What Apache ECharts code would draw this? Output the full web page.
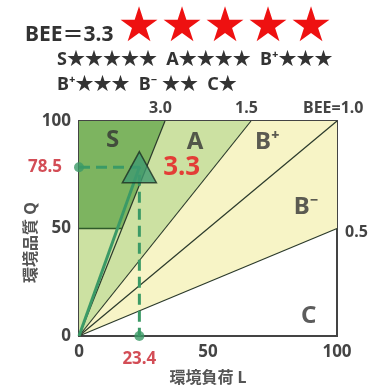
<!DOCTYPE html>
<html>
<head>
<meta charset="utf-8">
<script src="https://cdn.jsdelivr.net/npm/echarts@6/dist/echarts.min.js"></script>
<style>
  html, body { margin: 0; background: #fff; }
  #main { width: 372px; height: 391px; }
</style>
</head>
<body>
<div id="main"></div>
<script>
// 評価結果
const beeText = '3.3'
const pointL = 23.4
const pointQ = 78.5
const axisTicks = [0, 50, 100]
// ランク境界 (BEE)
const beeLines = [3.0, 1.5, 1.0, 0.5]
const beeLineLabels = ['3.0', '1.5', 'BEE=1.0', '0.5']
// 領域 [L, Q]
const zoneB = [[0, 0], [100, 50], [100, 100], [0, 100]]
const zoneA = [[0, 0], [66.7, 100], [0, 100]]
const zoneS = [[0, 50], [16.7, 50], [33.3, 100], [0, 100]]
const zoneLabels = ['S', 'A', 'B⁺', 'B⁻', 'C']
const zoneLabelPos = [[13, 91], [45, 90], [73, 90], [88, 60], [89, 9]]

const zones = [zoneB, zoneA, zoneS]
const zoneColors = ['#f7f4c6', '#cce1a2', '#7db460']

// 境界線の端点
const lineEnd = b => (b >= 1 ? [100 / b, 100] : [100, 100 * b])

const font = '"Noto Sans", "Noto Sans CJK JP", sans-serif'
const red = '#c8202c'
const green = '#3b9a66'

const myChart = echarts.init(document.getElementById('main'))

const series = [
  {
    type: 'custom',
    silent: true,
    data: zones.map((z, i) => i),
    renderItem: (params, api) => {
      const pts = zones[params.dataIndex].map(p => api.coord(p))
      return {
        type: 'polygon',
        shape: { points: pts },
        style: { fill: zoneColors[params.dataIndex] }
      }
    },
    z: 1
  }
]

// BEE 境界線
beeLines.forEach((b, i) => {
  series.push({
    type: 'line',
    data: [[0, 0], lineEnd(b)],
    symbol: 'none',
    lineStyle: { color: '#2b3a2b', width: 1.2 },
    endLabel: {
      show: true,
      formatter: beeLineLabels[i],
      fontFamily: font,
      fontWeight: 'bold',
      fontSize: 16,
      color: '#444',
      offset: b >= 1 ? (b === 1 ? [-42, -13] : [-24, -13]) : [0, 4]
    },
    z: 3
  })
})

// S 下端
series.push({
  type: 'line',
  data: [[0, 50], [16.7, 50]],
  symbol: 'none',
  lineStyle: { color: '#2f5a2a', width: 1.5 },
  z: 3
})

// 原点からの傾き線
series.push({
  type: 'line',
  data: [[0, 0], [pointL, pointQ]],
  symbol: 'none',
  lineStyle: { color: green, width: 3 },
  z: 4
})

// 破線
series.push({
  type: 'line',
  data: [[0, pointQ], [pointL, pointQ], [pointL, 0]],
  symbol: 'none',
  lineStyle: { color: green, width: 3, type: [11, 6] },
  z: 4
})

// 軸上の点と値
series.push({
  type: 'scatter',
  data: [
    { value: [0, pointQ], label: { position: 'left', distance: 12 } },
    { value: [pointL, 0], label: { position: 'bottom', distance: 10 } }
  ],
  symbolSize: 10,
  itemStyle: { color: green },
  label: {
    show: true,
    formatter: p => (p.value[0] === 0 ? pointQ.toFixed(1) : pointL.toFixed(1)),
    color: red,
    fontFamily: font,
    fontWeight: 'bold',
    fontSize: 17
  },
  clip: false,
  z: 5
})

// 評価点
series.push({
  type: 'scatter',
  data: [[pointL, pointQ]],
  symbol: 'triangle',
  symbolSize: [34, 31],
  itemStyle: { color: '#3f9a70', borderColor: '#1c2e22', borderWidth: 1.5 },
  label: {
    show: true,
    position: 'right',
    distance: 6,
    formatter: beeText,
    color: '#e8141c',
    fontFamily: font,
    fontWeight: 'bold',
    fontSize: 26
  },
  z: 6
})

// ランク名
series.push({
  type: 'scatter',
  data: zoneLabelPos.map((p, i) => ({ value: p, name: zoneLabels[i] })),
  symbolSize: 0,
  label: {
    show: true,
    position: 'inside',
    formatter: p => p.name,
    color: '#333',
    fontFamily: font,
    fontWeight: 'bold',
    fontSize: 24
  },
  z: 5
})

const axisLabelStyle = {
  fontFamily: font,
  fontWeight: 'bold',
  fontSize: 17,
  color: '#444',
  customValues: axisTicks
}

const nameStyle = { fontFamily: font, fontWeight: 'bold', fontSize: 16, color: '#555' }

myChart.setOption({
  animation: false,
  title: [
    {
      text: '{a|BEE＝3.3}{s|★★★★★}',
      left: 20,
      top: 0,
      textStyle: {
        rich: {
          a: { fontFamily: font, fontWeight: 'bold', fontSize: 21, color: '#333', padding: [12, 4, 0, 0] },
          s: { fontFamily: 'DejaVu Sans', fontSize: 48, color: '#ee1111' }
        }
      }
    },
    {
      text: 'S★★★★★  A★★★★  B⁺★★★\nB⁺★★★  B⁻ ★★  C★',
      left: 57,
      top: 47,
      padding: 0,
      textStyle: {
        fontFamily: font,
        fontWeight: 'bold',
        fontSize: 18,
        color: '#333',
        lineHeight: 25
      }
    }
  ],
  grid: {
    left: 79,
    top: 121,
    right: 35,
    bottom: 49,
    show: true,
    borderColor: '#444',
    borderWidth: 2,
    containLabel: false
  },
  xAxis: {
    type: 'value',
    min: 0,
    max: 100,
    interval: 50,
    name: '環境負荷 L',
    nameLocation: 'middle',
    nameGap: 34,
    nameMoveOverlap: false,
    nameTextStyle: nameStyle,
    axisLine: { show: true, lineStyle: { color: '#444', width: 2 } },
    axisTick: { show: false },
    splitLine: { show: false },
    axisLabel: Object.assign({ margin: 8 }, axisLabelStyle)
  },
  yAxis: {
    type: 'value',
    min: 0,
    max: 100,
    interval: 50,
    name: '環境品質 Q',
    nameLocation: 'middle',
    nameGap: 40,
    nameMoveOverlap: false,
    nameRotate: 90,
    nameTextStyle: Object.assign({ padding: [0, 28, 0, 0] }, nameStyle),
    axisLine: { show: true, lineStyle: { color: '#444', width: 2 } },
    axisTick: { show: false },
    splitLine: { show: false },
    axisLabel: Object.assign({ margin: 8 }, axisLabelStyle)
  },
  series: series
})
</script>
</body>
</html>
